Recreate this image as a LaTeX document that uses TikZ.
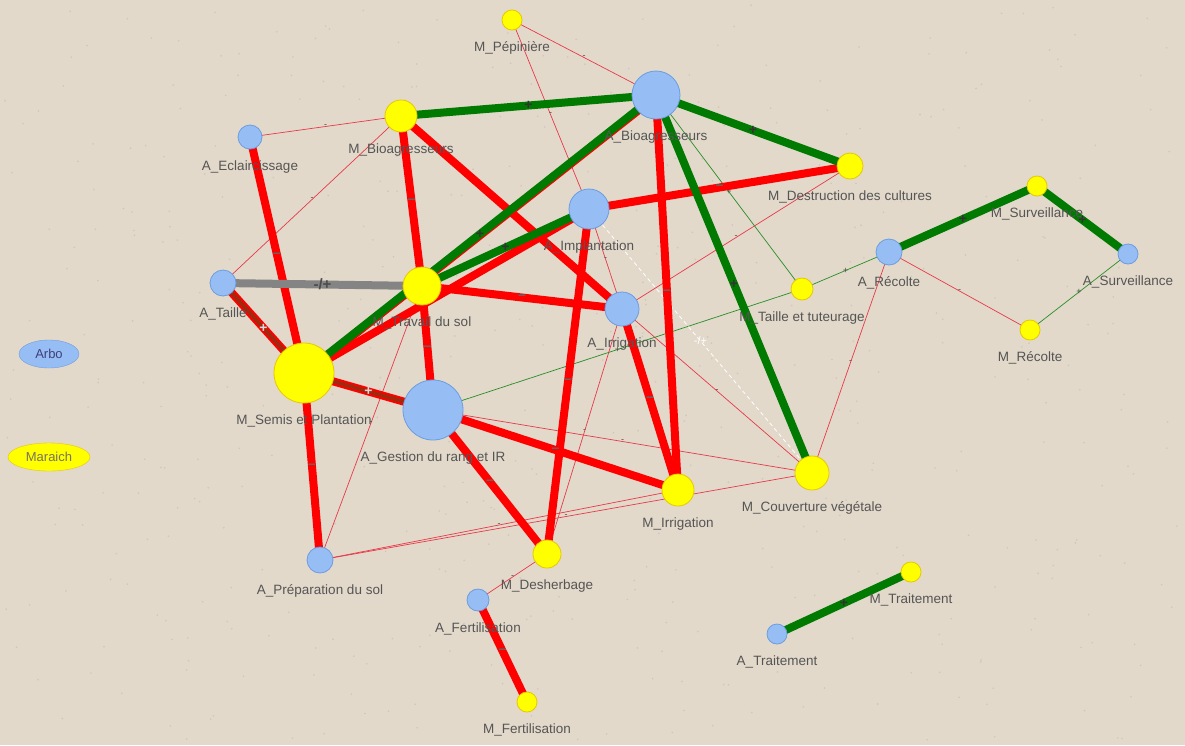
\documentclass[tikz,border=0pt]{standalone}
\usepackage{fontspec}
\setmainfont{Liberation Sans}
\usetikzlibrary{shapes.geometric}
\pgfdeclarelayer{hinten}
\pgfdeclarelayer{kanten}
\pgfsetlayers{hinten,kanten,main}
\definecolor{sand}{HTML}{E2D9CA}
\definecolor{gelb}{HTML}{FFFF00}
\definecolor{gelbrand}{HTML}{E6C800}
\definecolor{hblau}{HTML}{97BEF4}
\definecolor{blaurand}{HTML}{6C9CE0}
\definecolor{gruen}{HTML}{007A00}
\definecolor{rot}{HTML}{FF0000}
\definecolor{rotfein}{HTML}{E8384A}
\definecolor{braunrot}{HTML}{A2280E}
\definecolor{grau}{HTML}{848484}
\definecolor{schrift}{HTML}{555555}

\begin{document}
\begin{tikzpicture}[x=1pt, y=-1pt,
			arbo/.style={circle, fill=hblau, draw=blaurand, line width=0.8pt, minimum size=2*#1pt, inner sep=0pt},
			mara/.style={circle, fill=gelb, draw=gelbrand, line width=0.8pt, minimum size=2*#1pt, inner sep=0pt},
			lbl/.style={text=schrift, font=\fontsize{13.5}{15}\selectfont, inner sep=1pt, text height=10pt, text depth=3pt},
			label distance=10pt,
			gruendick/.style={draw=gruen, line width=8pt},
			gruenduenn/.style={draw=gruen!85, line width=0.7pt},
			rotdick/.style={draw=rot, line width=8pt},
			rotduenn/.style={draw=rotfein, line width=0.7pt},
			mischdick/.style={preaction={draw=rot, line width=8pt}, draw=braunrot, line width=4pt},
			graudick/.style={draw=grau, line width=8pt},
			weissstrich/.style={draw=white, line width=0.8pt, dash pattern=on 4pt off 3pt},
			zeichen/.style={font=\fontsize{14}{14}\selectfont\bfseries, text=black!80, inner sep=0.5pt},
			kzeichen/.style={font=\fontsize{9}{9}\selectfont, text=black!70, inner sep=0pt},
			font=\fontsize{13}{15}\selectfont]
			%Hintergrund
			\begin{pgfonlayer}{hinten}
				\fill[sand] (0,0) rectangle (1185,745);
				\pgfmathsetseed{7}
				\foreach \i in {1,...,500}
					\fill[black!35, opacity=0.35] (5+rnd*1175, 5+rnd*735) circle (0.9);
			\end{pgfonlayer}
			\useasboundingbox (0,0) rectangle (1185,745);
			% Legende
			\node[ellipse, fill=hblau, draw=blaurand, minimum width=60pt, minimum height=28pt, inner sep=0pt, text=black!55!blue!50!gray] (legarbo) at (49,354) {Arbo};
			\node[ellipse, fill=gelb, draw=gelbrand, minimum width=82pt, minimum height=28pt, inner sep=0pt, text=black!70!yellow!60!gray] (legmara) at (49,457) {Maraich};
			% Knoten Arbo
			\node[arbo=24, label={[lbl]below:A\_Bioagresseurs}] (abio) at (656,95) {};
			\node[arbo=12, label={[lbl]below:A\_Eclaircissage}] (aecl) at (250,137) {};
			\node[arbo=20, label={[lbl]below:A\_Implantation}] (aimp) at (589,209) {};
			\node[arbo=10, label={[lbl]below:A\_Surveillance}] (asur) at (1128,254) {};
			\node[arbo=13, label={[lbl]below:A\_Récolte}] (arec) at (889,252) {};
			\node[arbo=13, label={[lbl]below:A\_Taille}] (atai) at (223,283) {};
			\node[arbo=17, label={[lbl]below:A\_Irrigation}] (airr) at (622,309) {};
			\node[arbo=30, label={[lbl]below:A\_Gestion du rang et IR}] (ages) at (433,410) {};
			\node[arbo=13, label={[lbl]below:A\_Préparation du sol}] (apre) at (320,560) {};
			\node[arbo=11, label={[lbl]below:A\_Fertilisation}] (afer) at (478,600) {};
			\node[arbo=10, label={[lbl]below:A\_Traitement}] (atrt) at (777,634) {};
			% Knoten Maraich
			\node[mara=10, label={[lbl]below:M\_Pépinière}] (mpep) at (512,20) {};
			\node[mara=16, label={[lbl]below:M\_Bioagresseurs}] (mbio) at (401,116) {};
			\node[mara=13, label={[lbl]below:M\_Destruction des cultures}] (mdes) at (850,166) {};
			\node[mara=10, label={[lbl]below:M\_Surveillance}] (msur) at (1037,186) {};
			\node[mara=19, label={[lbl]below:M\_Travail du sol}] (mtra) at (422,286) {};
			\node[mara=11, label={[lbl]below:M\_Taille et tuteurage}] (mtai) at (802,289) {};
			\node[mara=10, label={[lbl]below:M\_Récolte}] (mrec) at (1030,330) {};
			\node[mara=30, label={[lbl]below:M\_Semis et Plantation}] (msem) at (304,373) {};
			\node[mara=17, label={[lbl]below:M\_Couverture végétale}] (mcou) at (812,473) {};
			\node[mara=16, label={[lbl]below:M\_Irrigation}] (mirr) at (678,490) {};
			\node[mara=14, label={[lbl]below:M\_Desherbage}] (mdsh) at (547,554) {};
			\node[mara=10, label={[lbl]below:M\_Fertilisation}] (mfer) at (527,702) {};
			\node[mara=10, label={[lbl]below:M\_Traitement}] (mtrt) at (911,572) {};
			% Kanten
			\begin{pgfonlayer}{kanten}
				%duenne Kanten
				\foreach \a/\b in {mpep/abio, mpep/aimp, aimp/airr, mbio/aecl, mbio/atai, airr/mdes, airr/mcou, airr/mdsh, mtra/apre, ages/mcou, apre/mirr, apre/mcou, mcou/arec, arec/mrec, mdsh/afer}
					\draw[rotduenn] (\a.center) -- node[kzeichen]{-} (\b.center);
				\foreach \a/\b in {abio/mtai, ages/mtai, mtai/arec, asur/mrec}
					\draw[gruenduenn] (\a.center) -- node[kzeichen]{+} (\b.center);
				\draw[weissstrich] (aimp.center) -- node[kzeichen, text=white, font=\fontsize{11}{11}\selectfont]{-/+} (mcou.center);
				%dicke Kanten
				\foreach \a/\b in {mbio/mtra, mbio/airr, aecl/msem, abio/mirr, aimp/mdes, aimp/mdsh, msem/aimp, mtra/airr, mtra/ages, msem/apre, ages/mirr, ages/mdsh, airr/mirr, afer/mfer}
					\draw[rotdick] (\a.center) -- node[zeichen, text=black!60]{–} (\b.center);
				\draw[rotdick, transform canvas={yshift=-1.5pt}] (msem.center) -- (abio.center);
				\foreach \a/\b in {mbio/abio, abio/mdes, msem/abio, mtra/aimp, abio/mcou, arec/msur, msur/asur, atrt/mtrt}
					\draw[gruendick] (\a.center) -- node[zeichen]{+} (\b.center);
				\foreach \a/\b in {atai/msem, msem/ages}
					\draw[mischdick] (\a.center) -- node[zeichen, text=white!85!black]{+} (\b.center);
				\draw[graudick] (atai.center) -- node[zeichen, font=\fontsize{15}{15}\selectfont\bfseries, text=black!70]{-/+} (mtra.center);
			\end{pgfonlayer}
		\end{tikzpicture}
\end{document}
